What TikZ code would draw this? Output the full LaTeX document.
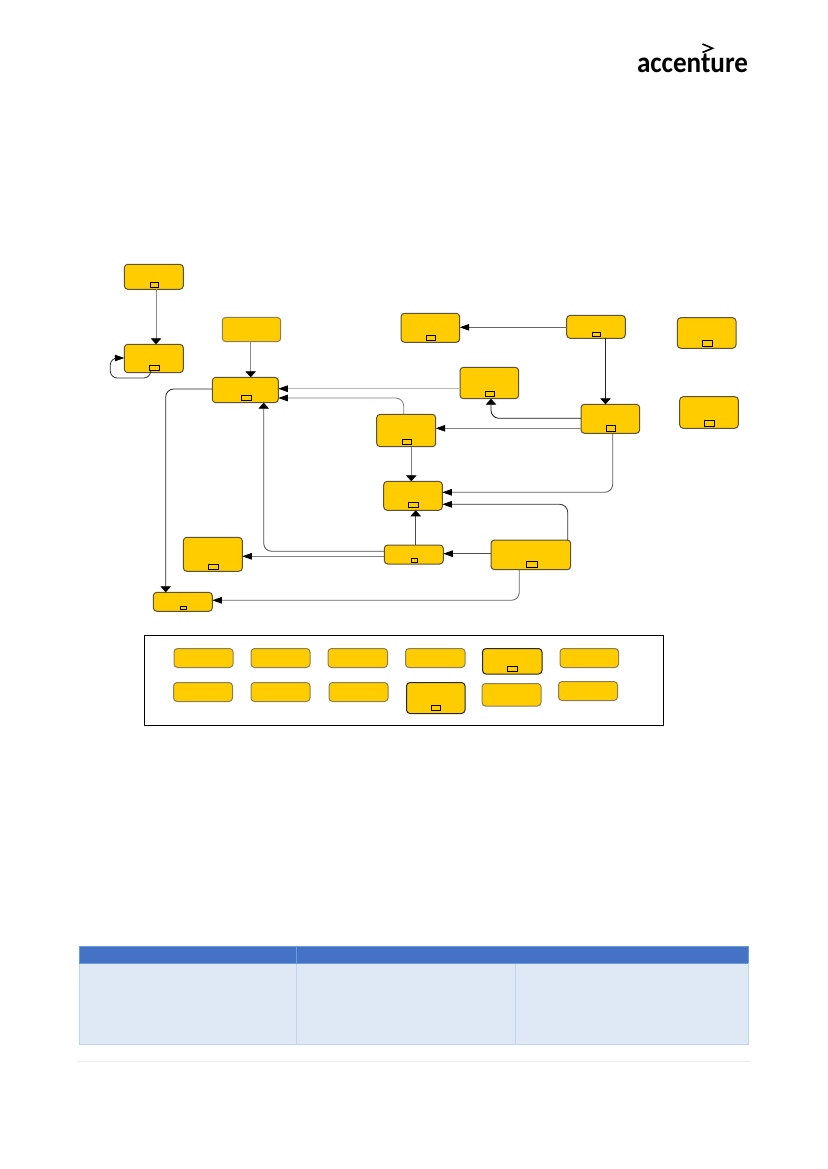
\documentclass[tikz,border=0pt]{standalone}
\usepackage{fontspec}
\usetikzlibrary{arrows.meta}
\newfontfamily\logofont{Carlito}
\definecolor{boxyellow}{HTML}{FFCC00}
\definecolor{boxedge}{HTML}{5A5240}
\definecolor{softedge}{HTML}{8A7F5A}
\definecolor{headblue}{HTML}{4472C4}
\definecolor{headedge}{HTML}{6A9BD8}
\definecolor{bodyblue}{HTML}{DEE9F5}
\definecolor{bodyedge}{HTML}{BDD6EE}
\tikzset{
  ybox/.style={draw=boxedge,fill=boxyellow,line width=1pt,rounded corners=3.5pt,inner sep=0pt,outer sep=0pt},
  softbox/.style={ybox,draw=softedge},
  tagbox/.style={draw=black,fill=boxyellow,line width=0.7pt,inner sep=0pt,outer sep=0pt},
  conn/.style={draw=#1,line width=0.85pt,rounded corners=8pt},
  conn/.default={black!65},
  htip/.style={-{Triangle[length=9.5pt,width=6.5pt,color=black]}},
  vtip/.style={-{Triangle[length=6pt,width=10.5pt,color=black]}},
  cell/.style={inner sep=0pt,outer sep=0pt},
}
\newcommand{\rectnode}[6]{%
  \pgfmathsetmacro\cxv{(#3+#5)/2}\pgfmathsetmacro\cyv{(#4+#6)/2}%
  \pgfmathsetmacro\wv{#5-#3}\pgfmathsetmacro\hv{#6-#4}%
  \node[#1,minimum width=\wv pt,minimum height=\hv pt] (#2) at (\cxv,\cyv) {};}
\begin{document}
\begin{tikzpicture}[x=1pt,y=-1pt]
\useasboundingbox (0,0) rectangle (827,1169);
% logo
\node[inner sep=0pt,anchor=base] (logo) at (692.5,72.5) {\resizebox{111pt}{18.5pt}{\logofont\bfseries accenture}};
\draw[line width=1.6pt,black] (702.5,44) -- (712.5,48.3) -- (702.5,52.5);
% frame
\rectnode{draw=black,line width=0.9pt,cell}{frame}{144.5}{635}{663}{725}
% boxes
\rectnode{ybox}{A}{124.3}{264.3}{183.3}{289.3}
\rectnode{tagbox}{As}{150.3}{282.3}{158.7}{287.7}
\rectnode{ybox}{B}{124.3}{344.3}{183.3}{372.7}
\rectnode{tagbox}{Bs}{149.3}{365}{159.7}{370.7}
\rectnode{softbox}{C}{222.3}{317.3}{280.7}{341.7}
\rectnode{ybox}{D}{212.3}{377.3}{278.3}{402.7}
\rectnode{tagbox}{Ds}{241.3}{395.3}{251}{400.7}
\rectnode{ybox}{E}{376.7}{414.3}{435.7}{446.7}
\rectnode{tagbox}{Es}{402.3}{439.3}{411.7}{444.7}
\rectnode{ybox}{F}{401}{313.3}{459.7}{342.3}
\rectnode{tagbox}{Fs}{426.3}{335.3}{435.7}{340.3}
\rectnode{ybox}{G}{566.7}{315.3}{625.3}{338.3}
\rectnode{tagbox}{Gs}{592.3}{332.3}{600.7}{336.3}
\rectnode{ybox}{H}{677.3}{317.7}{736}{348.3}
\rectnode{tagbox}{Hs}{702.3}{340.3}{712.7}{346.3}
\rectnode{ybox}{I}{460}{367.3}{518.7}{398.7}
\rectnode{tagbox}{Is}{485.3}{391.3}{494.7}{396.7}
\rectnode{ybox}{J}{581}{404.3}{639.7}{433.3}
\rectnode{tagbox}{Js}{606.3}{425.3}{615.7}{431.3}
\rectnode{ybox}{K}{679.7}{396.7}{738.3}{428.3}
\rectnode{tagbox}{Ks}{704.3}{420.3}{714.7}{426.3}
\rectnode{ybox}{L}{383.7}{481.3}{442.3}{510.3}
\rectnode{tagbox}{Ls}{408.3}{502.3}{418.7}{507.3}
\rectnode{ybox}{M}{384.3}{545}{443.3}{564}
\rectnode{tagbox}{Ms}{411.3}{558.3}{417.7}{562.3}
\rectnode{ybox}{N}{491}{540}{570.7}{569.7}
\rectnode{tagbox}{Ns}{526.3}{561.3}{537.7}{567.3}
\rectnode{ybox}{O}{183.3}{537.3}{242.3}{571.3}
\rectnode{tagbox}{Os}{208.3}{564.3}{218.7}{569.7}
\rectnode{ybox}{P}{153.3}{592.3}{212.3}{611.3}
\rectnode{tagbox}{Ps}{180.3}{606.3}{186.7}{609.3}
% legend boxes
\rectnode{softbox}{La}{174}{648.5}{233}{667.5}
\rectnode{softbox}{Lb}{251}{648.5}{310}{667.5}
\rectnode{softbox}{Lc}{328}{648.5}{387.5}{667.5}
\rectnode{softbox}{Ld}{405.5}{648.5}{465}{667.5}
\rectnode{ybox,draw=black!85}{Le}{482.5}{648.5}{542}{674}
\rectnode{tagbox}{Les}{507.5}{666}{517}{671.5}
\rectnode{softbox}{Lf}{560}{648.5}{618.5}{667.5}
\rectnode{softbox}{Lg}{173.5}{682.5}{232.5}{701.5}
\rectnode{softbox}{Lh}{251}{682.5}{310}{701.5}
\rectnode{softbox}{Li}{329}{682.5}{388}{701.5}
\rectnode{ybox,draw=black!85}{Lj}{406.5}{682.5}{465}{713.5}
\rectnode{tagbox}{Ljs}{431}{705}{440.5}{710.5}
\rectnode{softbox}{Lk}{482}{683.5}{541}{706}
\rectnode{softbox}{Ll}{558.5}{681.5}{617.5}{700.5}
% connectors
\draw[conn=black!45,vtip] (156,0 |- A.south) -- (156,0 |- B.north);
\draw[conn=black!80,htip,rounded corners=7pt] (150.7,0 |- B.south) -- (150.7,378) -- (110.3,378) -- (110.3,358) -- (B.west |- 0,358);
\draw[conn=black!45,vtip] (250.7,0 |- C.south) -- (250.7,0 |- D.north);
\draw[conn=black!85,vtip] (D.west |- 0,389) -| (165.7,0 |- P.north);
\draw[conn=black!28,htip] (I.west |- 0,388.7) -- (D.east |- 0,388.7);
\draw[conn=black!50,htip] (403.7,0 |- E.north) |- (D.east |- 0,398);
\draw[conn=black!60,htip] (G.west |- 0,327.3) -- (F.east |- 0,327.3);
\draw[conn=black!85,vtip] (605.5,0 |- G.south) -- (605.5,0 |- J.north);
\draw[conn=black!90,vtip] (J.west |- 0,418.3) -| (491,0 |- I.south);
\draw[conn=black!50,htip] (J.west |- 0,428.3) -- (E.east |- 0,428.3);
\draw[conn=black!65,htip] (612.7,0 |- J.south) |- (L.east |- 0,492.3);
\draw[conn=black!50,vtip] (411.3,0 |- E.south) -- (411.3,0 |- L.north);
\draw[conn=black!80,htip] (567.7,0 |- N.north) |- (L.east |- 0,504.3);
\draw[conn=black!70,vtip] (415.7,0 |- M.north) -- (415.7,0 |- L.south);
\draw[conn=black!70,htip] (N.west |- 0,553.7) -- (M.east |- 0,553.7);
\draw[conn=black!70,vtip] (M.west |- 0,551.3) -| (263.7,0 |- D.south);
\draw[conn=black!50,htip] (M.west |- 0,556.3) -- (O.east |- 0,556.3);
\draw[conn=black!60,htip] (519.3,0 |- N.south) |- (P.east |- 0,600.3);
% table
\rectnode{cell,fill=headblue,draw=headedge,line width=0.7pt}{th1}{79}{946}{296}{963}
\rectnode{cell,fill=headblue,draw=headedge,line width=0.7pt}{th2}{296}{946}{748}{963}
\rectnode{cell,fill=bodyblue,draw=bodyedge,line width=0.8pt}{td1}{79}{963}{296}{1044}
\rectnode{cell,fill=bodyblue,draw=bodyedge,line width=0.8pt}{td2}{296}{963}{515.5}{1044}
\rectnode{cell,fill=bodyblue,draw=bodyedge,line width=0.8pt}{td3}{515.5}{963}{748}{1044}
\draw[headedge,line width=0.9pt] (th1.south west) -- (th2.south east);
% footer rule
\draw[black!8,line width=1.2pt] (77,1061.5) coordinate (fl) -- (750,1061.5) coordinate (fr);
\end{tikzpicture}
\end{document}
